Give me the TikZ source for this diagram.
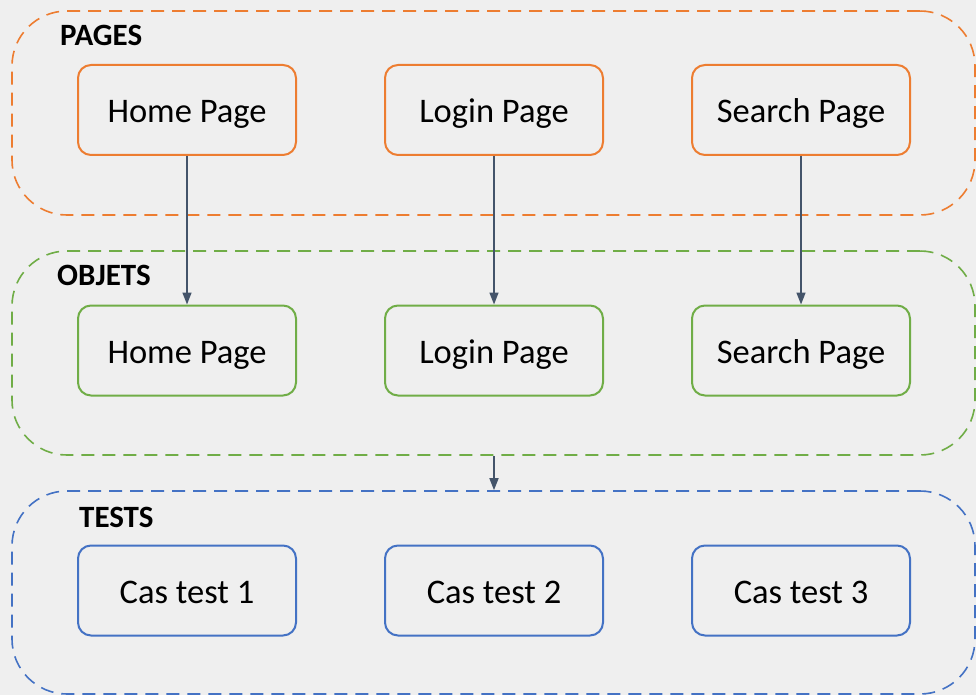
\documentclass[tikz,border=0pt]{standalone}
\usepackage{fontspec}
\setmainfont{Carlito}
\usetikzlibrary{arrows.meta}
\definecolor{bgc}{HTML}{EFEFEF}
\definecolor{orangeC}{HTML}{ED7D31}
\definecolor{greenC}{HTML}{70AD47}
\definecolor{blueC}{HTML}{4472C4}
\definecolor{arrowC}{HTML}{44546A}
\tikzset{
  group/.style={draw, line width=1.6pt, dash pattern=on 13pt off 8pt,
    rounded corners=55pt, minimum width=963pt, inner sep=0pt},
  grouplabel/.style={anchor=base west, font=\fontsize{31}{36}\selectfont\bfseries, inner sep=0pt},
  item/.style={draw, line width=2pt, rounded corners=13pt, minimum width=218pt,
    minimum height=90pt, font=\fontsize{34.5}{40}\selectfont, text=black,
    text height=32pt, text depth=6pt},
  link/.style={draw=arrowC, line width=1.6pt, -{Triangle[length=12pt,width=9pt]}}
}
\begin{document}
\begin{tikzpicture}[x=1pt,y=-1pt]
  \fill[bgc] (0,0) rectangle (976,695);
  \useasboundingbox (0,0) rectangle (976,695);
  \begin{scope}
  \clip (0,0) rectangle (976,695);
  % group frames
  \node[group, draw=orangeC, minimum height=204pt] (pages) at (493.5,113) {};
  \node[group, draw=greenC, minimum height=204pt] (objets) at (493.5,353) {};
  \node[group, draw=blueC, minimum height=203pt] (tests) at (493.5,592.5) {};
  \end{scope}
  % group titles
  \node[grouplabel] (lpages) at (60,46) {PAGES};
  \node[grouplabel] (lobjets) at (57,285) {OBJETS};
  \node[grouplabel] (ltests) at (79,527) {TESTS};
  % pages
  \node[item, draw=orangeC] (p1) at (187,110) {Home Page};
  \node[item, draw=orangeC] (p2) at (494,110) {Login Page};
  \node[item, draw=orangeC] (p3) at (801,110) {Search Page};
  % objects
  \node[item, draw=greenC] (o1) at (187,350.5) {Home Page};
  \node[item, draw=greenC] (o2) at (494,350.5) {Login Page};
  \node[item, draw=greenC] (o3) at (801,350.5) {Search Page};
  % test cases
  \node[item, draw=blueC] (t1) at (187,590.5) {Cas test 1};
  \node[item, draw=blueC] (t2) at (494,590.5) {Cas test 2};
  \node[item, draw=blueC] (t3) at (801,590.5) {Cas test 3};
  % links
  \draw[link] (p1.south) -- (o1.north);
  \draw[link] (p2.south) -- (o2.north);
  \draw[link] (p3.south) -- (o3.north);
  \coordinate (gfrom) at (objets.south -| o2.south);
  \coordinate (gto) at (tests.north -| o2.south);
  \draw[link] (gfrom) -- (gto);
\end{tikzpicture}
\end{document}
